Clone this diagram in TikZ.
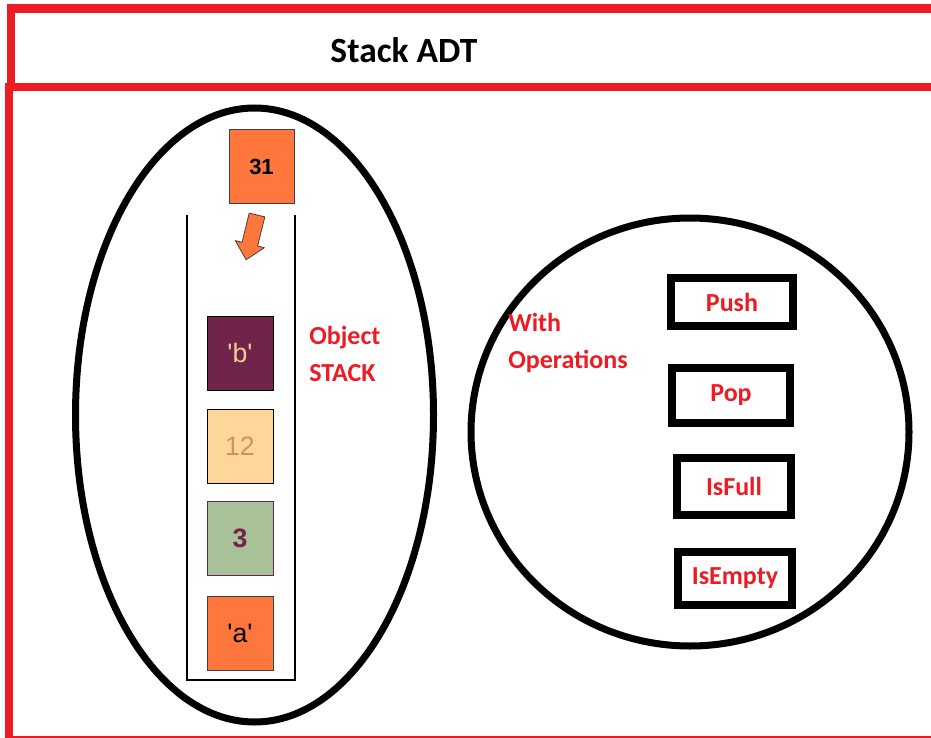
\documentclass[tikz,border=0pt]{standalone}
\usepackage{fontspec}
\setmainfont{Carlito}
\newfontfamily\arialf{Liberation Sans}[Ligatures=TeXOff]
\usetikzlibrary{shapes.geometric}
\definecolor{adtred}{HTML}{ED1C24}
\definecolor{orng}{HTML}{FF773D}
\definecolor{maroon}{HTML}{71244A}
\definecolor{tan}{HTML}{F2CC8F}
\definecolor{peach}{HTML}{FFD699}
\definecolor{peachtxt}{HTML}{C9955C}
\definecolor{sage}{HTML}{A9C199}
\definecolor{cellborder}{HTML}{404040}
\begin{document}
\begin{tikzpicture}[x=0.75pt,y=-0.75pt,
  frame/.style={draw=adtred, line width=6.4pt},
  oval/.style={draw=black, line width=5.25pt, ellipse, inner sep=0pt},
  cell/.style={minimum width=49.5pt, minimum height=55pt, inner sep=0pt,
    line width=0.75pt, font=\arialf\fontsize{20}{22}\selectfont},
  redtxt/.style={text=adtred, font=\bfseries\fontsize{19.5}{27.75}\selectfont, align=left, inner sep=0pt},
  opbox/.style={draw=black, line width=6.4pt, inner sep=0pt, text=adtred,
    font=\bfseries\fontsize{19.5}{24}\selectfont}
]
\useasboundingbox (0,0) rectangle (931,738);
\clip (0,0) rectangle (931,738);
\fill[white] (0,0) rectangle (931,738);

% frames
\draw[frame] (11,8.5) rectangle (950,87);
\draw[frame] (9,87) rectangle (950,740);
\node[font=\bfseries\fontsize{26.6}{32}\selectfont] (title) at (404,50) {Stack ADT};

% ovals
\node[oval, minimum width=268.5pt, minimum height=460.5pt] (stackoval) at (254.5,415) {};
\node[oval, minimum width=328.5pt, minimum height=321pt] (opsoval) at (690,432) {};

% stack container
\coordinate (ctl) at (187,215);
\coordinate (cbl) at (187,680);
\coordinate (cbr) at (295,680);
\coordinate (ctr) at (295,215);
\draw[line width=1.5pt] (ctl) -- (cbl) -- (cbr) -- (ctr);

% incoming element
\node[cell, fill=orng, draw=cellborder, minimum width=48.75pt, minimum height=54.75pt,
  font=\arialf\bfseries\fontsize{16.5}{18}\selectfont] (n31) at (261.5,166.5) {31};
\draw[fill=orng, draw=cellborder, line width=0.6pt, line join=round]
  (249.2,213.1) -- (264.8,216.9) -- (257.6,246.0) -- (264.4,247.7)
  -- (246.1,259.7) -- (235.3,240.6) -- (242.1,242.2) -- cycle;

% stack cells
\node[cell, fill=maroon, draw=black, text=tan, minimum height=55.5pt] (cb) at (240,353) {'b'};
\node[cell, fill=peach, draw=black, text=peachtxt] (c12) at (240,446.5) {12};
\node[cell, fill=sage, draw=maroon, text=maroon, font=\arialf\bfseries\fontsize{20}{22}\selectfont] (c3) at (240,538.5) {3};
\node[cell, fill=orng, draw=cellborder, text=black] (ca) at (240,633.5) {'a'};

\node[redtxt, anchor=west] (objlbl) at (309,354) {Object\\STACK};
\node[redtxt, anchor=west] (oplbl) at (508,343) {With\\Operations};

% operations
\node[opbox, minimum width=91.5pt, minimum height=36pt] (push) at (732,302) {Push};
\node[opbox, minimum width=88.5pt, minimum height=41.25pt] (pop) at (731,395.5) {Pop};
\node[opbox, minimum width=85.5pt, minimum height=42.75pt] (isfull) at (734,486.5) {IsFull};
\node[opbox, minimum width=85.5pt, minimum height=39.75pt] (isempty) at (735,578.5) {IsEmpty};
\end{tikzpicture}
\end{document}
